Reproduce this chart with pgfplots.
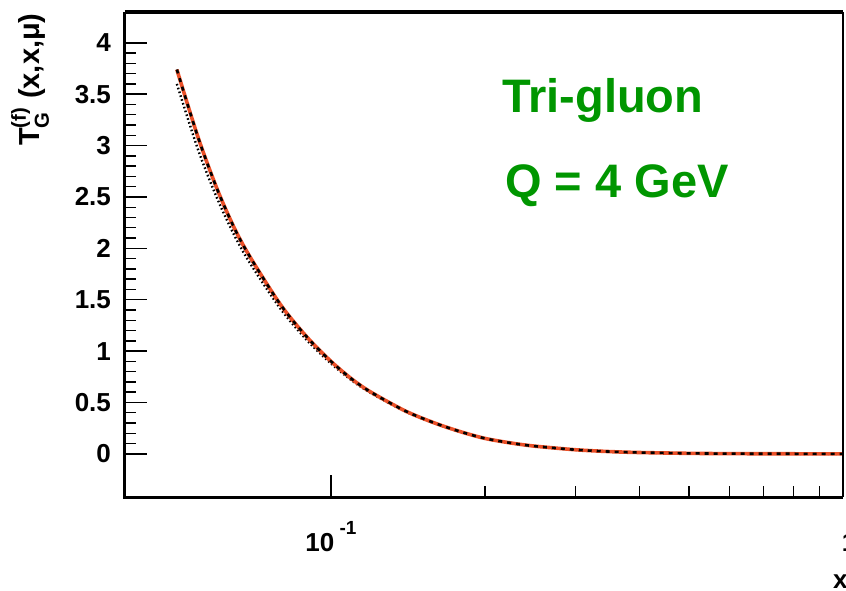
\documentclass[border=0pt]{standalone}
\usepackage{pgfplots}
\pgfplotsset{compat=1.18}
\usepackage{fontspec}
\setmainfont{Liberation Sans}
\usepackage{amsmath}
\definecolor{rootred}{RGB}{235,80,40}
\definecolor{rootgreen}{RGB}{0,150,0}

\pgfplotstableread{
x y
0.050 3.74
0.055 3.08
0.060 2.57
0.065 2.18
0.070 1.89
0.080 1.44
0.090 1.13
0.100 0.90
0.110 0.725
0.120 0.597
0.140 0.415
0.160 0.297
0.180 0.212
0.200 0.150
0.225 0.105
0.250 0.075
0.300 0.040
0.350 0.022
0.400 0.013
0.500 0.005
0.600 0.002
0.800 0.0005
1.000 0.0
}\redtab

\pgfplotstableread{
x y
0.050 3.60
0.055 2.96
0.060 2.48
0.065 2.11
0.070 1.83
0.080 1.40
0.090 1.10
0.100 0.88
0.110 0.712
0.120 0.588
0.140 0.410
0.160 0.294
0.180 0.210
0.200 0.149
0.225 0.104
0.250 0.074
0.300 0.040
0.350 0.022
0.400 0.013
0.500 0.005
0.600 0.002
0.800 0.0005
1.000 0.0
}\dottab

\begin{document}
\begin{tikzpicture}
\begin{axis}[
  scale only axis, width=359pt, height=242.5pt,
  xmode=log, xmin=0.0396, xmax=1, ymin=-0.42, ymax=4.3,
  axis line style={draw=none},
  tick align=inside, xtick pos=left, ytick pos=left,
  major tick length=11pt, minor tick length=5.5pt,
  tick style={line width=0.7pt, black},
  ytick={0,0.5,1,1.5,2,2.5,3,3.5,4},
  minor y tick num=4,
  xtick={0.1,1},
  xticklabels={{10\raisebox{8.5pt}{\fontsize{9.5}{10}\selectfont\ -1}},{\hspace*{6pt}\vphantom{\raisebox{8.5pt}{\fontsize{9.5}{10}\selectfont -1}}1}},
  /pgf/number format/assume math mode=true,
  yticklabel style={font=\fontsize{13}{15}\selectfont\bfseries, xshift=-3.5pt},
  xticklabel style={font=\fontsize{13}{15}\selectfont\bfseries, yshift=-8.5pt},
  clip=false,
]
\addplot[black, line width=1.2pt, dash pattern=on 0.8pt off 1.2pt, smooth] table {\dottab};
\addplot[rootred, line width=1.8pt, smooth] table {\redtab};
\addplot[black, line width=1.3pt, dash pattern=on 2pt off 2.5pt, smooth] table {\redtab};
\draw[line width=1.5pt] (rel axis cs:0,1) -- (rel axis cs:0,0) -- (rel axis cs:1,0);
\draw[line width=2pt] (rel axis cs:0,1) -- (rel axis cs:1,1);
\draw[line width=0.6pt] (rel axis cs:1,1) -- (rel axis cs:1,0);
\node[anchor=base west, text=rootgreen, font=\fontsize{23.5}{26}\selectfont\bfseries, inner sep=0pt] at (rel axis cs:0.525,0.792) {Tri-gluon};
\node[anchor=base west, text=rootgreen, font=\fontsize{23.5}{26}\selectfont\bfseries, inner sep=0pt] at (rel axis cs:0.529,0.6165) {Q = 4 GeV};
\node[rotate=90, anchor=base east, inner sep=0pt, font=\fontsize{14.5}{16}\selectfont\bfseries] at ([xshift=-42.5pt,yshift=-0.5pt]rel axis cs:0,1) {T$^{\text{(f)}}_{\text{G}}$ (x,x,μ)};
\node[anchor=base east, inner sep=0pt, font=\fontsize{13}{15}\selectfont\bfseries] at ([xshift=2.5pt,yshift=-45.5pt]rel axis cs:1,0) {x};
\end{axis}
\pgfresetboundingbox
\useasboundingbox (-62.5pt,-46.5pt) rectangle (360.5pt,248.5pt);
\end{tikzpicture}
\end{document}
